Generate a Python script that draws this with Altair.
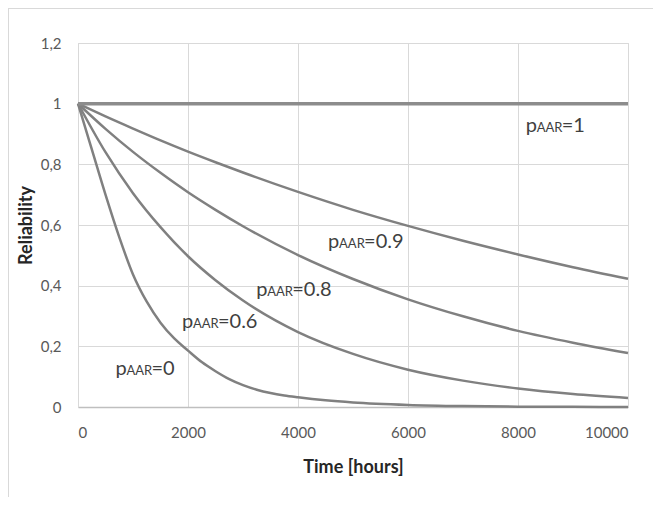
import altair as alt
import pandas as pd

# ---- data ----
t_p0 = [0, 250, 500, 750, 1000, 1250, 1500, 1750, 2000, 2250, 2500, 2750, 3000,
        3250, 3500, 3750, 4000, 4500, 5000, 6000, 7000, 8000, 9000, 10000]
r_p0 = [1.0, 0.85, 0.70, 0.56, 0.437, 0.347, 0.278, 0.226, 0.186, 0.148, 0.118,
        0.092, 0.072, 0.057, 0.046, 0.038, 0.032, 0.022, 0.015, 0.007, 0.003,
        0.001, 0.0005, 0.0]

t_std = [0, 500, 1000, 1500, 2000, 2500, 3000, 4000, 5000, 6000, 7000, 8000, 9000, 10000]
r_p06 = [1.0, 0.84, 0.705, 0.593, 0.497, 0.418, 0.351, 0.247, 0.175, 0.123, 0.087, 0.061, 0.043, 0.030]
r_p08 = [1.0, 0.917, 0.841, 0.772, 0.708, 0.650, 0.596, 0.501, 0.422, 0.355, 0.299, 0.251, 0.212, 0.178]
r_p09 = [1.0, 0.958, 0.918, 0.879, 0.842, 0.807, 0.773, 0.709, 0.650, 0.597, 0.548, 0.503, 0.461, 0.423]
r_p1 = [1.0] * len(t_std)

label_values = ["1", "0.9", "0.8", "0.6", "0"]
label_t = [8140, 4546, 3240, 1890, 680]
label_r = [0.908, 0.525, 0.366, 0.259, 0.106]

# ---- tables ----
rows = []
for t, r in zip(t_p0, r_p0):
    rows.append({"t": t, "r": r, "series": "0"})
for name, vals in [("0.6", r_p06), ("0.8", r_p08), ("0.9", r_p09)]:
    for t, r in zip(t_std, vals):
        rows.append({"t": t, "r": r, "series": name})
curves = pd.DataFrame(rows)
flat = pd.DataFrame({"t": t_std, "r": r_p1, "series": "1"})
labels = pd.DataFrame({"t": label_t, "r": label_r, "v": label_values})
labels["eq"] = "=" + labels["v"]

W, H = 550, 364
PL, PT, PR, PB = 70, 35, 25, 90
FONT = "Lato"

x = alt.X("t:Q", scale=alt.Scale(domain=[0, 10000], nice=False),
          axis=alt.Axis(values=[0, 2000, 4000, 6000, 8000, 10000], title="Time [hours]",
                        format="d",
                        grid=True, gridColor="#d9d9d9", gridWidth=1,
                        domain=True, domainColor="#bfbfbf", domainWidth=1.5,
                        ticks=False, labelPadding=18, labelFontSize=15,
                        labelColor="#595959", labelFont=FONT,
                        titleFont=FONT, titleFontSize=18, titleFontWeight="bold",
                        titleColor="#262626", titlePadding=18))
y = alt.Y("r:Q", scale=alt.Scale(domain=[0, 1.2], nice=False),
          axis=alt.Axis(values=[0, 0.2, 0.4, 0.6, 0.8, 1.0, 1.2], title="Reliability",
                        labelExpr="replace(toString(datum.value), '.', ',')",
                        grid=True, gridColor="#d9d9d9", gridWidth=1,
                        domain=True, domainColor="#d9d9d9", domainWidth=1,
                        ticks=False, labelPadding=17, labelFontSize=15,
                        labelColor="#595959", labelFont=FONT,
                        titleFont=FONT, titleFontSize=18, titleFontWeight="bold",
                        titleColor="#262626", titlePadding=5))

lines = alt.Chart(curves).mark_line(color="#808080", strokeWidth=2.5,
                                    interpolate="monotone").encode(
    x=x, y=y, detail="series:N")
top = alt.Chart(flat).mark_line(color="#8c8c8c", strokeWidth=3.5).encode(
    x="t:Q", y="r:Q")

txt_p = alt.Chart(labels).mark_text(align="left", baseline="alphabetic", font=FONT,
                                    fontSize=20, color="#3f3f3f", text="p").encode(
    x="t:Q", y="r:Q")
txt_aar = alt.Chart(labels).mark_text(align="left", baseline="alphabetic", font=FONT,
                                      fontSize=13, color="#3f3f3f", dx=11, text="AAR").encode(
    x="t:Q", y="r:Q")
txt_eq = alt.Chart(labels).mark_text(align="left", baseline="alphabetic", font=FONT,
                                     fontSize=20, color="#3f3f3f", dx=36).encode(
    x="t:Q", y="r:Q", text="eq:N")

# light frame around the chart area (top and left edges visible in the reference)
frame_src = pd.DataFrame({"k": [0]})
frame_top = alt.Chart(frame_src).mark_rule(color="#d9d9d9", strokeWidth=1).encode(
    x=alt.value(-PL), x2=alt.value(W + PR), y=alt.value(-PT + 0.5))
frame_left = alt.Chart(frame_src).mark_rule(color="#d9d9d9", strokeWidth=1).encode(
    x=alt.value(-PL + 0.5), y=alt.value(-PT), y2=alt.value(H + PB))

chart = alt.layer(frame_top, frame_left, lines, top, txt_p, txt_aar, txt_eq).properties(
    width=W, height=H,
    autosize=alt.AutoSizeParams(type="none"),
    padding={"left": PL, "top": PT, "right": PR, "bottom": PB},
).configure_view(stroke="#d9d9d9", strokeWidth=1)

chart.save("out.html", embed_options={"renderer": "svg", "actions": False})
